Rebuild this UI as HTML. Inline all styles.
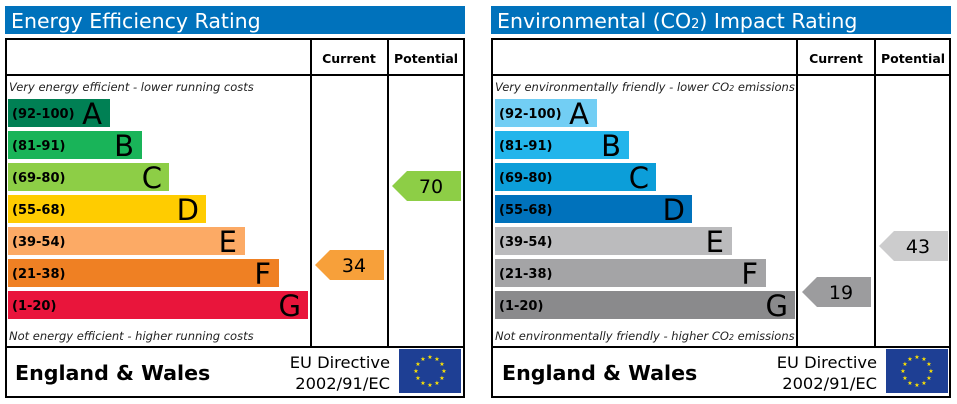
<!DOCTYPE html>
<html><head><meta charset="utf-8"><style>
html,body{margin:0;padding:0;background:#fff;}
svg{display:block;font-family:"DejaVu Sans","Liberation Sans",sans-serif;}
.t{fill:#fff;font-size:20.5px;}
.h{font-size:12.5px;font-weight:bold;}
.i{font-size:11.5px;font-style:italic;fill:#222;}
.r{font-size:13px;font-weight:bold;}
.L{font-size:29px;}
.n{font-size:19px;}
.ew{font-size:20.6px;font-weight:bold;}
.eu{font-size:16.3px;}
</style></head><body>
<svg width="957" height="404" viewBox="0 0 957 404">
<defs>
<g id="flag">
<rect x="0" y="0" width="62" height="44" fill="#1e3f94"/>
<g fill="#ffe500" font-size="6" text-anchor="middle">
<text x="31" y="10">★</text><text x="38" y="12">★</text><text x="43" y="17">★</text><text x="45" y="24">★</text><text x="43" y="31">★</text><text x="38" y="36">★</text><text x="31" y="38">★</text><text x="24" y="36">★</text><text x="19" y="31">★</text><text x="17" y="24">★</text><text x="19" y="17">★</text><text x="24" y="12">★</text>
</g></g>
</defs>
<!-- LEFT -->
<g>
<rect x="5" y="6" width="460" height="28" fill="#0072bc"/>
<text class="t" x="11" y="28">Energy Efficiency Rating</text>
<rect x="6" y="39" width="458" height="358" fill="none" stroke="#000" stroke-width="2"/>
<line x1="6" y1="75" x2="464" y2="75" stroke="#000" stroke-width="2"/>
<line x1="311" y1="39" x2="311" y2="347" stroke="#000" stroke-width="2"/>
<line x1="388" y1="39" x2="388" y2="347" stroke="#000" stroke-width="2"/>
<line x1="6" y1="347" x2="464" y2="347" stroke="#000" stroke-width="2"/>
<text class="h" x="349" y="63" text-anchor="middle">Current</text>
<text class="h" x="426" y="63" text-anchor="middle">Potential</text>
<text class="i" x="9" y="91">Very energy efficient - lower running costs</text>
<text class="i" x="9" y="340">Not energy efficient - higher running costs</text>
<rect x="8" y="99" width="102" height="28" fill="#008054"/>
<rect x="8" y="131" width="134" height="28" fill="#19b459"/>
<rect x="8" y="163" width="161" height="28" fill="#8dce46"/>
<rect x="8" y="195" width="198" height="28" fill="#ffcc00"/>
<rect x="8" y="227" width="237" height="28" fill="#fcaa65"/>
<rect x="8" y="259" width="271" height="28" fill="#ef8023"/>
<rect x="8" y="291" width="300" height="28" fill="#e9153b"/>
<g class="r"><text x="12" y="118">(92-100)</text><text x="12" y="150">(81-91)</text><text x="12" y="182">(69-80)</text><text x="12" y="214">(55-68)</text><text x="12" y="246">(39-54)</text><text x="12" y="278">(21-38)</text><text x="12" y="310">(1-20)</text></g>
<g class="L" text-anchor="end"><text x="102" y="124">A</text><text x="134" y="156">B</text><text x="162" y="188">C</text><text x="199" y="220">D</text><text x="237" y="252">E</text><text x="271" y="284">F</text><text x="301" y="316">G</text></g>
<polygon points="315,265 330,250 384,250 384,280 330,280" fill="#f7a03a"/>
<text class="n" x="354" y="272" text-anchor="middle">34</text>
<polygon points="392,186 407,171 461,171 461,201 407,201" fill="#8dce46"/>
<text class="n" x="431" y="193" text-anchor="middle">70</text>
<text class="ew" x="15" y="380">England &amp; Wales</text>
<text class="eu" x="390" y="368" text-anchor="end">EU Directive</text>
<text class="eu" x="390" y="389" text-anchor="end">2002/91/EC</text>
<use href="#flag" x="399" y="349"/>
</g>
<!-- RIGHT -->
<g>
<rect x="491" y="6" width="460" height="28" fill="#0072bc"/>
<text class="t" x="497" y="28">Environmental (CO<tspan font-size="13">2</tspan>) Impact Rating</text>
<rect x="492" y="39" width="458" height="358" fill="none" stroke="#000" stroke-width="2"/>
<line x1="492" y1="75" x2="950" y2="75" stroke="#000" stroke-width="2"/>
<line x1="797" y1="39" x2="797" y2="347" stroke="#000" stroke-width="2"/>
<line x1="875" y1="39" x2="875" y2="347" stroke="#000" stroke-width="2"/>
<line x1="492" y1="347" x2="950" y2="347" stroke="#000" stroke-width="2"/>
<text class="h" x="836" y="63" text-anchor="middle">Current</text>
<text class="h" x="913" y="63" text-anchor="middle">Potential</text>
<text class="i" x="495" y="91">Very environmentally friendly - lower CO<tspan font-size="8">2</tspan> emissions</text>
<text class="i" x="495" y="340">Not environmentally friendly - higher CO<tspan font-size="8">2</tspan> emissions</text>
<rect x="495" y="99" width="102" height="28" fill="#72cef4"/>
<rect x="495" y="131" width="134" height="28" fill="#22b5eb"/>
<rect x="495" y="163" width="161" height="28" fill="#0c9ed9"/>
<rect x="495" y="195" width="197" height="28" fill="#0072bc"/>
<rect x="495" y="227" width="237" height="28" fill="#bbbbbd"/>
<rect x="495" y="259" width="271" height="28" fill="#a4a4a6"/>
<rect x="495" y="291" width="300" height="28" fill="#8a8a8c"/>
<g class="r"><text x="499" y="118">(92-100)</text><text x="499" y="150">(81-91)</text><text x="499" y="182">(69-80)</text><text x="499" y="214">(55-68)</text><text x="499" y="246">(39-54)</text><text x="499" y="278">(21-38)</text><text x="499" y="310">(1-20)</text></g>
<g class="L" text-anchor="end"><text x="589" y="124">A</text><text x="621" y="156">B</text><text x="649" y="188">C</text><text x="685" y="220">D</text><text x="724" y="252">E</text><text x="758" y="284">F</text><text x="788" y="316">G</text></g>
<polygon points="802,292 817,277 871,277 871,307 817,307" fill="#9c9c9e"/>
<text class="n" x="841" y="299" text-anchor="middle">19</text>
<polygon points="879,246 894,231 948,231 948,261 894,261" fill="#cccccd"/>
<text class="n" x="918" y="253" text-anchor="middle">43</text>
<text class="ew" x="502" y="380">England &amp; Wales</text>
<text class="eu" x="877" y="368" text-anchor="end">EU Directive</text>
<text class="eu" x="877" y="389" text-anchor="end">2002/91/EC</text>
<use href="#flag" x="886" y="349"/>
</g>
</svg>
</body></html>
